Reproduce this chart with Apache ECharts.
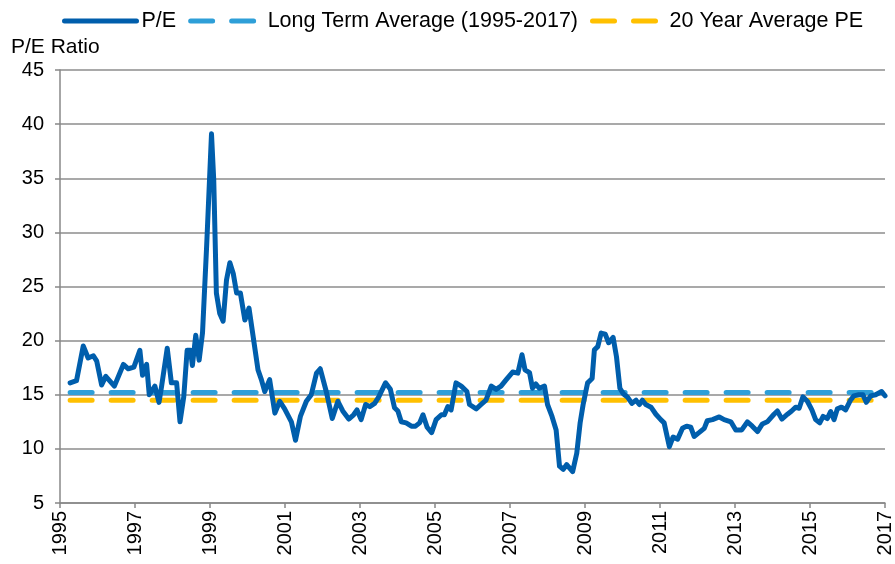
<!DOCTYPE html>
<html>
<head>
<meta charset="utf-8">
<script src="https://cdn.jsdelivr.net/npm/echarts@6/dist/echarts.min.js"></script>
<style>
  html, body { margin: 0; padding: 0; background: #fff; }
  #peChart { width: 895px; height: 564px; }
</style>
</head>
<body>
<div id="peChart"></div>
<script>
// data (decimal year, P/E)
const years = [
    1995.27, 1995.44, 1995.62, 1995.75, 1995.89, 1995.98, 1996.11, 1996.22, 1996.45, 1996.69,
    1996.82, 1996.97, 1997.13, 1997.20, 1997.31, 1997.38, 1997.53, 1997.64, 1997.71, 1997.86,
    1997.97, 1998.11, 1998.20, 1998.30, 1998.39, 1998.48, 1998.53, 1998.62, 1998.71, 1998.80,
    1998.91, 1999.04, 1999.10, 1999.17, 1999.26, 1999.35, 1999.44, 1999.53, 1999.62, 1999.71,
    1999.81, 1999.93, 2000.04, 2000.15, 2000.28, 2000.37, 2000.46, 2000.59, 2000.73, 2000.86,
    2000.99, 2001.17, 2001.28, 2001.41, 2001.57, 2001.70, 2001.84, 2001.94, 2002.10, 2002.26,
    2002.41, 2002.54, 2002.70, 2002.83, 2002.92, 2003.03, 2003.15, 2003.26, 2003.39, 2003.50,
    2003.68, 2003.81, 2003.92, 2004.01, 2004.10, 2004.23, 2004.37, 2004.48, 2004.59, 2004.68,
    2004.79, 2004.91, 2005.03, 2005.17, 2005.25, 2005.34, 2005.43, 2005.56, 2005.70, 2005.85,
    2005.92, 2006.10, 2006.23, 2006.36, 2006.50, 2006.63, 2006.76, 2006.90, 2007.07, 2007.21,
    2007.32, 2007.40, 2007.52, 2007.60, 2007.69, 2007.78, 2007.92, 2008.00, 2008.12, 2008.23,
    2008.32, 2008.42, 2008.51, 2008.67, 2008.78, 2008.87, 2008.95, 2009.07, 2009.19, 2009.25,
    2009.34, 2009.43, 2009.54, 2009.63, 2009.75, 2009.84, 2009.93, 2010.02, 2010.13, 2010.25,
    2010.36, 2010.45, 2010.53, 2010.62, 2010.76, 2010.89, 2011.02, 2011.11, 2011.25, 2011.35,
    2011.47, 2011.60, 2011.71, 2011.82, 2011.91, 2012.04, 2012.18, 2012.26, 2012.40, 2012.58,
    2012.71, 2012.89, 2013.02, 2013.18, 2013.33, 2013.46, 2013.60, 2013.73, 2013.86, 2014.04,
    2014.13, 2014.25, 2014.40, 2014.51, 2014.62, 2014.71, 2014.81, 2014.93, 2015.05, 2015.15,
    2015.26, 2015.35, 2015.46, 2015.55, 2015.64, 2015.73, 2015.84, 2015.95, 2016.08, 2016.17,
    2016.30, 2016.41, 2016.50, 2016.62, 2016.75, 2016.91, 2017.00
];
const peValues = [
    16.1, 16.3, 19.5, 18.4, 18.6, 18.1, 15.9, 16.7, 15.8, 17.8,
    17.4, 17.55, 19.1, 16.8, 17.8, 15.0, 15.8, 14.3, 15.8, 19.3,
    16.1, 16.1, 12.5, 14.8, 19.1, 19.1, 17.7, 20.5, 18.2, 20.7,
    28.7, 39.1, 34.8, 24.4, 22.5, 21.8, 25.6, 27.2, 26.2, 24.4,
    24.4, 21.9, 23.0, 20.4, 17.3, 16.4, 15.3, 16.4, 13.3, 14.4,
    13.7, 12.5, 10.8, 13.0, 14.4, 15.0, 17.0, 17.4, 15.3, 12.8,
    14.4, 13.5, 12.75, 13.15, 13.6, 12.7, 14.1, 13.9, 14.2, 14.8,
    16.1, 15.5, 13.8, 13.5, 12.5, 12.4, 12.1, 12.1, 12.4, 13.15,
    12.0, 11.5, 12.7, 13.15, 13.15, 13.9, 13.6, 16.1, 15.8, 15.3,
    14.1, 13.7, 14.1, 14.5, 15.8, 15.5, 15.8, 16.4, 17.1, 17.0,
    18.7, 17.3, 17.05, 15.6, 16.0, 15.6, 15.8, 14.1, 13.0, 11.75,
    8.4, 8.1, 8.55, 7.9, 9.6, 12.4, 14.1, 16.1, 16.5, 19.15,
    19.45, 20.7, 20.6, 19.8, 20.3, 18.5, 15.6, 15.1, 14.8, 14.2,
    14.5, 14.1, 14.5, 14.1, 13.85, 13.2, 12.7, 12.4, 10.2, 11.1,
    10.9, 11.9, 12.1, 12.0, 11.15, 11.5, 11.9, 12.6, 12.7, 12.95,
    12.7, 12.5, 11.75, 11.75, 12.5, 12.1, 11.6, 12.3, 12.5, 13.2,
    13.5, 12.75, 13.2, 13.5, 13.85, 13.75, 14.8, 14.4, 13.6, 12.7,
    12.4, 13.0, 12.8, 13.45, 12.7, 13.7, 13.85, 13.6, 14.5, 14.9,
    15.0, 15.0, 14.3, 14.9, 15.0, 15.3, 14.9
];
const longTermAvg = 15.2;
const twentyYearAvg = 14.5;
const avgSpan = [1995.27, 2017.0];

const peData = years.map(function (y, i) { return [y, peValues[i]]; });
const longData = avgSpan.map(function (y) { return [y, longTermAvg]; });
const twentyData = avgSpan.map(function (y) { return [y, twentyYearAvg]; });

const FONT = '"Liberation Sans", Arial, sans-serif';

const chart = echarts.init(document.getElementById('peChart'));
chart.setOption({
    animation: false,
    textStyle: { fontFamily: FONT, color: '#000' },
    legend: {
        top: 5,
        left: 57,
        itemWidth: 72,
        itemHeight: 12,
        itemGap: 12,
        itemStyle: { opacity: 0 },
        lineStyle: { width: 'inherit', cap: 'round' },
        textStyle: { fontFamily: FONT, fontSize: 21.5, color: '#000' },
        data: ['P/E', 'Long Term Average (1995-2017)', '20 Year Average PE']
    },
    grid: { left: 60, right: 9, top: 70, bottom: 61 },
    xAxis: {
        type: 'value',
        min: 1995,
        max: 2017,
        interval: 2,
        axisLine: { lineStyle: { color: '#888', width: 1.5 } },
        axisTick: { show: true, length: 5, lineStyle: { color: '#888', width: 1.5 } },
        axisLabel: {
            rotate: 90,
            fontFamily: FONT,
            fontSize: 20,
            color: '#000',
            margin: 8,
            formatter: function (v) { return String(v); }
        },
        splitLine: { show: false }
    },
    yAxis: {
        type: 'value',
        min: 5,
        max: 45,
        interval: 5,
        name: 'P/E Ratio',
        nameLocation: 'end',
        nameGap: 12,
        nameTextStyle: { fontFamily: FONT, fontSize: 21, color: '#000', align: 'left', padding: [0, 0, 0, -49] },
        axisLine: { show: true, lineStyle: { color: '#888', width: 1.5 } },
        axisTick: { show: true, length: 5, lineStyle: { color: '#888', width: 1.5 } },
        axisLabel: { fontFamily: FONT, fontSize: 20, color: '#000', margin: 16 },
        splitLine: { lineStyle: { color: '#8c8c8c', width: 1.5 } }
    },
    series: [
        {
            name: 'P/E',
            type: 'line',
            data: peData,
            symbol: 'none',
            z: 3,
            lineStyle: { color: '#005eac', width: 5, join: 'round', cap: 'round' },
            itemStyle: { color: '#005eac' }
        },
        {
            name: 'Long Term Average (1995-2017)',
            type: 'line',
            data: longData,
            symbol: 'none',
            z: 2,
            lineStyle: { color: '#2e9fd8', width: 5, type: [22, 19], cap: 'round' },
            itemStyle: { color: '#2e9fd8' }
        },
        {
            name: '20 Year Average PE',
            type: 'line',
            data: twentyData,
            symbol: 'none',
            z: 2,
            lineStyle: { color: '#ffc000', width: 5, type: [22, 19], cap: 'round' },
            itemStyle: { color: '#ffc000' }
        }
    ]
});
window.addEventListener('resize', function () {
    chart.resize();
});
</script>
</body>
</html>
